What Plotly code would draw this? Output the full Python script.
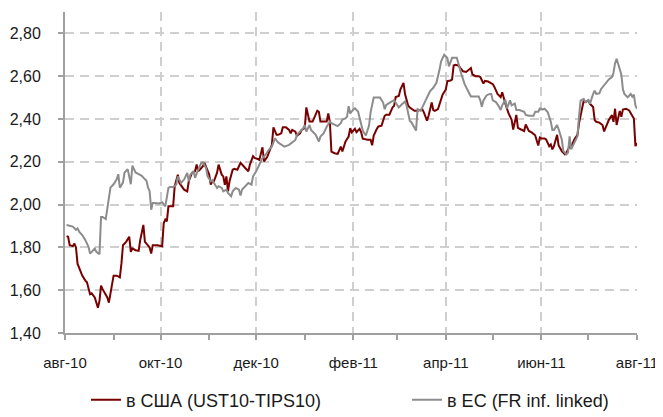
import plotly.graph_objects as go
import pandas as pd

# Day offsets from 1 Aug 2010 and values (percentage points)
us_days = [1, 2, 3, 5, 6, 7, 8, 10, 11, 13, 14, 16, 17, 19, 20, 21, 22, 23, 24, 26, 27, 28, 29, 30, 31, 33, 35, 36, 37, 39,
           41, 42, 43, 45, 47, 48, 50, 51, 53, 54, 55, 56, 59, 61, 62, 63, 64, 65, 66, 67, 69, 70, 72, 73, 75, 76, 78, 79, 81, 83,
           84, 85, 86, 88, 89, 90, 92, 93, 94, 95, 97, 98, 100, 101, 102, 103, 104, 105, 107, 108, 110, 112, 114, 115, 117, 118, 120, 121, 123,
           124, 126, 127, 129, 130, 132, 133, 135, 136, 138, 139, 141, 143, 144, 145, 147, 148, 150, 151, 153, 154, 155, 156, 158, 160,
           161, 162, 163, 165, 167, 168, 169, 170, 172, 174, 176, 177, 178, 179, 181, 182,
           183, 185, 186, 188, 189, 190, 193, 195, 196, 197, 199, 200, 202, 204, 205, 207, 209, 210, 211, 213, 214, 216, 217, 219, 220,
           222, 223, 225, 227, 228, 229, 231, 232, 234, 235, 236, 238, 239, 241, 243, 244, 246,
           247, 248, 249, 251, 253, 254, 256, 257, 259, 260, 262, 264, 265, 267, 268, 270, 271, 273, 274, 276, 278, 279, 281, 283, 285,
           286, 288, 289, 291, 293, 294, 296, 298, 300, 302, 303, 304, 306,
           307, 309, 310, 311, 312, 314, 315, 317, 319, 320, 322, 323, 325, 327, 328, 330, 331, 332, 334, 335, 337, 338, 339, 341, 343,
           344, 346, 347, 349, 350, 351, 352, 354, 355, 356, 358, 360, 361, 363, 364, 365]
us_vals = [1.853, 1.85, 1.81, 1.806, 1.818, 1.80, 1.724, 1.692, 1.668, 1.645, 1.637, 1.581, 1.585, 1.566, 1.542, 1.518, 1.55, 1.621, 1.605, 1.581,
           1.566, 1.542, 1.581, 1.629, 1.668, 1.668, 1.66, 1.724, 1.81, 1.826, 1.85, 1.779, 1.795, 1.787, 1.784, 1.834, 1.905, 1.826, 1.81, 1.80,
           1.771, 1.81, 1.81, 1.806, 1.805, 1.914, 1.93, 1.922, 1.992, 1.992, 1.992, 2.086, 2.14, 2.10, 2.078, 2.07, 2.062, 2.109, 2.148, 2.156,
           2.187, 2.156, 2.163, 2.179, 2.195, 2.179, 2.14, 2.093, 2.109, 2.109, 2.148, 2.187, 2.14, 2.132, 2.093, 2.132, 2.062, 2.109, 2.163, 2.167,
           2.163, 2.195, 2.182, 2.171, 2.156, 2.187, 2.226, 2.218, 2.213,
           2.209, 2.268, 2.202, 2.222, 2.24, 2.279, 2.361, 2.326, 2.326, 2.333, 2.361, 2.361, 2.349, 2.333, 2.349, 2.341, 2.322, 2.333, 2.349, 2.357,
           2.454, 2.426, 2.388, 2.388, 2.419, 2.439, 2.434, 2.388, 2.388, 2.388, 2.426, 2.388, 2.248, 2.24, 2.237, 2.271, 2.248, 2.271, 2.295, 2.318, 2.357,
           2.338, 2.354, 2.338, 2.354, 2.338, 2.308, 2.303, 2.303, 2.277, 2.323, 2.354, 2.365, 2.369, 2.415, 2.42, 2.42, 2.454, 2.462, 2.503, 2.508,
           2.538, 2.569, 2.515, 2.462, 2.454, 2.446, 2.438, 2.438, 2.446, 2.446, 2.431, 2.392, 2.415, 2.477, 2.442, 2.438, 2.446, 2.469, 2.515, 2.538,
           2.577, 2.58,
           2.585, 2.65, 2.653, 2.65, 2.63, 2.623, 2.62, 2.626, 2.638, 2.608, 2.60, 2.60, 2.596, 2.566, 2.578, 2.575, 2.57, 2.563, 2.55, 2.517,
           2.502, 2.525, 2.472, 2.427, 2.396, 2.351, 2.419, 2.359, 2.351, 2.344, 2.374, 2.344, 2.336, 2.324, 2.276, 2.313, 2.309, 2.309,
           2.304, 2.273, 2.281, 2.258, 2.273, 2.326, 2.276, 2.25, 2.235, 2.243, 2.273, 2.27, 2.304, 2.326, 2.38, 2.463, 2.486, 2.479, 2.486, 2.471,
           2.456, 2.395, 2.387, 2.383, 2.372, 2.342, 2.38, 2.395, 2.418, 2.387, 2.448, 2.372, 2.437, 2.41, 2.444, 2.448, 2.44, 2.425, 2.402, 2.273, 2.288]

eu_days = [1, 3, 5, 7, 8, 9, 11, 13, 15, 16, 18, 19, 20, 22, 23, 24, 26, 28, 29, 31, 33, 34, 35, 37, 38, 40, 42, 43, 45, 47,
           49, 50, 52, 53, 54, 55, 56, 57, 60, 62,
           64, 66, 67, 69, 71, 72, 74, 76, 78, 79, 80, 82, 83, 85, 87, 88, 90, 91, 93, 94, 95, 97, 98, 100, 101, 103, 104, 106, 107, 109,
           111, 112, 113, 114, 116, 117, 119, 120, 122, 124,
           126, 128, 130, 132, 134, 136, 138, 140, 143, 145, 147, 148, 150, 152, 153, 154, 156, 157, 160, 162, 163, 165, 167, 169, 170,
           172, 174, 176, 177, 179, 180, 181, 182, 184, 185,
           187, 188, 190, 192, 194, 195, 197, 199, 201, 203, 204, 205, 207, 209, 210, 212, 213, 215, 217, 218, 220, 221, 223, 224, 225,
           227, 228, 229, 231, 233, 235, 237, 239, 240, 242, 244, 245,
           247, 250, 252, 253, 255, 256, 259, 261, 264, 265, 266, 267, 269, 271, 272, 273, 275, 277, 278, 279, 281, 282, 284, 285,
           287, 288, 290, 293, 294, 296, 299, 300, 302, 303, 305,
           306, 308, 310, 311, 312, 314, 315, 317, 318, 320, 321, 322, 323, 325, 327, 328, 329, 331, 332, 334, 335, 337, 338, 339, 341,
           342, 344, 345, 347, 349, 350, 351, 352, 353, 355, 356, 357, 359, 361, 362, 363, 364, 365]
eu_vals = [1.905, 1.902, 1.897, 1.882, 1.889, 1.874, 1.858, 1.834, 1.803, 1.771, 1.787, 1.795, 1.779, 1.768, 1.942, 1.942, 1.932, 2.024, 2.079, 2.095,
           2.118, 2.142, 2.079, 2.103, 2.15, 2.166, 2.095, 2.182, 2.15, 2.142, 2.134, 2.126, 2.111, 2.079, 2.063, 1.976, 2.008, 2.008, 2.005, 2.011,
           1.992, 2.078, 2.082, 2.082, 2.093, 2.132, 2.101, 2.117, 2.148, 2.109, 2.14, 2.156, 2.125, 2.163, 2.195, 2.198, 2.171, 2.132, 2.109, 2.114,
           2.101, 2.078, 2.086, 2.078, 2.062, 2.07, 2.054, 2.039, 2.062, 2.078, 2.07, 2.042, 2.07, 2.078, 2.093, 2.101, 2.093, 2.132, 2.156, 2.187,
           2.217, 2.233, 2.256, 2.271, 2.31, 2.29, 2.279, 2.271, 2.279, 2.29, 2.302, 2.326, 2.341, 2.357, 2.372, 2.341, 2.372, 2.349, 2.326, 2.295,
           2.318, 2.333, 2.364, 2.388, 2.38, 2.372, 2.367, 2.38, 2.398, 2.403, 2.411, 2.46, 2.426, 2.445, 2.45,
           2.435, 2.408, 2.346, 2.323, 2.369, 2.431, 2.50, 2.50, 2.50, 2.477, 2.446, 2.466, 2.477, 2.485, 2.488, 2.469, 2.454, 2.469, 2.482, 2.462,
           2.392, 2.385, 2.362, 2.346, 2.446, 2.438, 2.454, 2.469, 2.50, 2.531, 2.546, 2.569, 2.631, 2.669, 2.70, 2.685, 2.646,
           2.686, 2.686, 2.63, 2.608, 2.563, 2.547, 2.505, 2.505, 2.505, 2.487, 2.457, 2.487, 2.51, 2.517, 2.517, 2.487, 2.479, 2.457, 2.442, 2.464,
           2.49, 2.449, 2.487, 2.464, 2.472, 2.442, 2.442, 2.434, 2.419, 2.415, 2.415, 2.434, 2.434, 2.449, 2.445,
           2.448, 2.433, 2.387, 2.349, 2.349, 2.372, 2.352, 2.304, 2.25, 2.235, 2.243, 2.319, 2.258, 2.288, 2.319, 2.41, 2.486, 2.494, 2.479, 2.489,
           2.471, 2.517, 2.532, 2.517, 2.52, 2.539, 2.559, 2.57, 2.585, 2.596, 2.616, 2.661, 2.681, 2.657, 2.608, 2.539, 2.517, 2.501, 2.517, 2.504,
           2.514, 2.463, 2.448]

start_date = "2010-08-01"
end_date = "2011-08-01"
tick_dates = ["2010-08-01", "2010-10-01", "2010-12-01", "2011-02-01", "2011-04-01", "2011-06-01", "2011-08-01"]
tick_labels = ["авг-10", "окт-10", "дек-10", "фев-11", "апр-11", "июн-11", "авг-11"]
y_ticks = [1.4, 1.6, 1.8, 2.0, 2.2, 2.4, 2.6, 2.8]
series_names = ["в США (UST10-TIPS10)", "в ЕС (FR inf. linked)"]

t0 = pd.Timestamp(start_date)
us_dates = t0 + pd.to_timedelta(us_days, unit="D")
eu_dates = t0 + pd.to_timedelta(eu_days, unit="D")

FONT = "Liberation Sans, Arial, sans-serif"
GRID = "#CFCFCF"
AXIS = "#A0A0A0"

fig = go.Figure()
fig.add_trace(go.Scatter(x=us_dates, y=us_vals, mode="lines", name=series_names[0],
                         line=dict(color="#780000", width=2), legend="legend"))
fig.add_trace(go.Scatter(x=eu_dates, y=eu_vals, mode="lines", name=series_names[1],
                         line=dict(color="#8C8C8C", width=2), legend="legend2"))

leg_common = dict(orientation="h", xanchor="left", y=-0.209, yanchor="middle",
                  font=dict(family=FONT, size=18, color="#1a1a1a"),
                  bgcolor="rgba(0,0,0,0)")

# the page body adds an 8px offset; the figure keeps the window width so the last label is not clipped
fig.update_layout(
    width=663, height=409,
    margin=dict(l=57, r=34, t=4, b=84, autoexpand=False),
    paper_bgcolor="white", plot_bgcolor="white",
    separators=", ",
    font=dict(family=FONT, size=16, color="#1a1a1a"),
    showlegend=True,
    legend=dict(x=0.0367, **leg_common),
    legend2=dict(x=0.598, **leg_common),
    xaxis=dict(type="date", range=[start_date, end_date],
               tickvals=tick_dates, ticktext=tick_labels,
               showgrid=True, gridcolor=GRID, griddash="9px,6px", gridwidth=1.5,
               showline=True, linecolor=AXIS, linewidth=2,
               ticks="outside", ticklen=5, tickcolor=AXIS, tickwidth=1.5,
               ticklabelstandoff=10, automargin=False,
               tickfont=dict(size=15),
               minor=dict(dtick="M1", tick0=start_date, ticks="outside", ticklen=5,
                          tickcolor=AXIS, tickwidth=1.5, showgrid=False),
               zeroline=False),
    yaxis=dict(range=[1.4, 2.9], tickvals=y_ticks, tickformat=".2f",
               showgrid=True, gridcolor=GRID, griddash="9px,6px", gridwidth=1.5,
               showline=True, linecolor=AXIS, linewidth=2,
               ticks="outside", ticklen=5, tickcolor=AXIS, tickwidth=1.5,
               tickfont=dict(size=16),
               ticklabelstandoff=14, automargin=False, zeroline=False),
)

fig.write_html("out.html")
